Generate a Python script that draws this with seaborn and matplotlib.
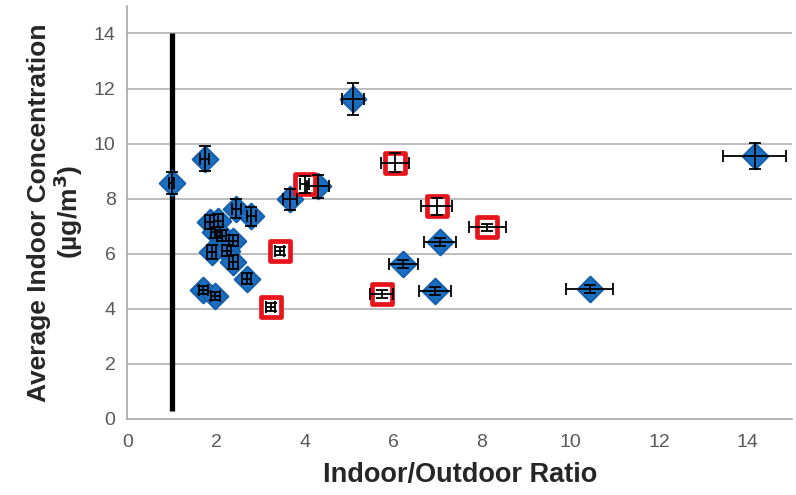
import matplotlib
matplotlib.use("Agg")
import matplotlib.pyplot as plt
import seaborn as sns
import pandas as pd

# Homes without intervention (blue diamonds)
blue_ratio = [1.00, 1.75, 5.10, 14.16, 10.44, 3.67, 4.31, 2.46, 2.80, 7.05, 6.23, 6.94,
              1.86, 2.05, 1.98, 2.13, 2.39, 1.90, 2.24, 2.39, 2.69, 1.71, 1.98]
blue_conc = [8.58, 9.45, 11.62, 9.56, 4.72, 7.97, 8.44, 7.64, 7.35, 6.41, 5.62, 4.65,
             7.14, 7.20, 6.78, 6.65, 6.47, 6.05, 6.11, 5.69, 5.08, 4.68, 4.47]
blue_xerr = [0.05, 0.10, 0.25, 0.71, 0.53, 0.15, 0.25, 0.10, 0.10, 0.36, 0.32, 0.36,
             0.10, 0.10, 0.10, 0.10, 0.10, 0.10, 0.10, 0.10, 0.10, 0.10, 0.10]
blue_yerr = [0.40, 0.45, 0.57, 0.47, 0.15, 0.37, 0.42, 0.35, 0.35, 0.15, 0.15, 0.15,
             0.25, 0.25, 0.20, 0.20, 0.20, 0.25, 0.20, 0.25, 0.20, 0.15, 0.15]

# Homes with intervention (red squares)
red_ratio = [4.00, 6.04, 6.98, 8.12, 3.44, 3.24, 5.74]
red_conc = [8.52, 9.30, 7.72, 6.96, 6.10, 4.05, 4.53]
red_xerr = [0.10, 0.32, 0.35, 0.42, 0.10, 0.10, 0.26]
red_yerr = [0.30, 0.35, 0.30, 0.12, 0.15, 0.15, 0.15]

# Reference line at ratio = 1
ref_x = 1.0
ref_y = [0.3, 14.0]

x_ticks = [0, 2, 4, 6, 8, 10, 12, 14]
y_ticks = [0, 2, 4, 6, 8, 10, 12, 14]

sns.set_style("white")
plt.rcParams["font.family"] = ["Liberation Sans", "DejaVu Sans"]

fig = plt.figure(figsize=(7.96, 4.95), dpi=100)
ax = fig.add_axes([0.160, 0.154, 0.835, 0.834])

blue_df = pd.DataFrame({"ratio": blue_ratio, "conc": blue_conc})
red_df = pd.DataFrame({"ratio": red_ratio, "conc": red_conc})

for yv in y_ticks[1:]:
    ax.axhline(yv, color="#bdbdbd", lw=1.4, zorder=0)

ax.plot([ref_x, ref_x], ref_y, color="black", lw=3.8, solid_capstyle="butt", zorder=2)

sns.scatterplot(data=blue_df, x="ratio", y="conc", ax=ax, marker="D", s=170,
                color="#1c6fc0", edgecolor="#1560ad", linewidth=1.5, zorder=3, legend=False)
sns.scatterplot(data=red_df, x="ratio", y="conc", ax=ax, marker="s", s=215,
                color="white", edgecolor="#e8141b", linewidth=3.4, zorder=3, legend=False)

ax.errorbar(blue_ratio, blue_conc, xerr=blue_xerr, yerr=blue_yerr, fmt="none",
            ecolor="black", elinewidth=1.3, capsize=4, capthick=1.3, zorder=4)
ax.errorbar(red_ratio, red_conc, xerr=red_xerr, yerr=red_yerr, fmt="none",
            ecolor="black", elinewidth=1.3, capsize=4, capthick=1.3, zorder=4)

ax.set_xlim(0, 15)
ax.set_ylim(0, 15)
ax.set_xticks(x_ticks)
ax.set_yticks(y_ticks)
ax.tick_params(axis="both", labelsize=14, colors="#595959", length=5, width=1,
               direction="out", color="#a6a6a6")
ax.tick_params(axis="x", pad=6)

for side in ["top", "right"]:
    ax.spines[side].set_visible(False)
for side in ["left", "bottom"]:
    ax.spines[side].set_color("#a6a6a6")
    ax.spines[side].set_linewidth(1.2)

ax.set_xlabel("Indoor/Outdoor Ratio", fontsize=19.5, fontweight="bold", color="#262626",
              labelpad=8)
ax.set_ylabel("Average Indoor Concentration\n(µg/m$^\\mathbf{3}$)", fontsize=19,
              fontweight="bold", color="#262626", labelpad=6, linespacing=1.05)

fig.savefig("out.png", dpi=100)
